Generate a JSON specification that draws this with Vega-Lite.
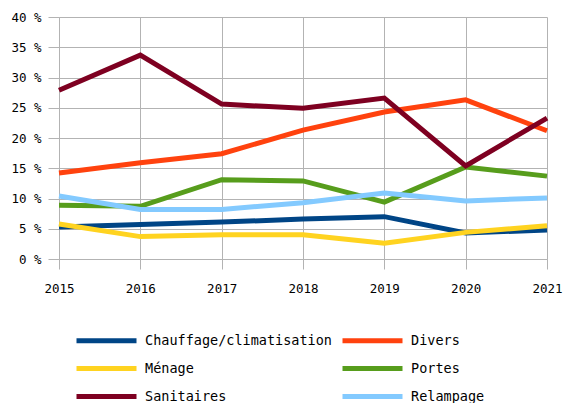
{
  "$schema": "https://vega.github.io/schema/vega-lite/v6.json",
  "width": 488,
  "height": 242,
  "autosize": "none",
  "padding": {"left": 59, "top": 17, "right": 20, "bottom": 144},
  "background": "white",
  "config": {"view": {"stroke": null}, "font": "DejaVu Sans Mono"},
  "data": {"values": [
    {"serie": "Chauffage/climatisation", "annee": 2015, "v": 5.3},
    {"serie": "Chauffage/climatisation", "annee": 2016, "v": 5.7},
    {"serie": "Chauffage/climatisation", "annee": 2017, "v": 6.1},
    {"serie": "Chauffage/climatisation", "annee": 2018, "v": 6.6},
    {"serie": "Chauffage/climatisation", "annee": 2019, "v": 7.0},
    {"serie": "Chauffage/climatisation", "annee": 2020, "v": 4.3},
    {"serie": "Chauffage/climatisation", "annee": 2021, "v": 4.8},
    {"serie": "Divers", "annee": 2015, "v": 14.2},
    {"serie": "Divers", "annee": 2016, "v": 15.9},
    {"serie": "Divers", "annee": 2017, "v": 17.4},
    {"serie": "Divers", "annee": 2018, "v": 21.3},
    {"serie": "Divers", "annee": 2019, "v": 24.3},
    {"serie": "Divers", "annee": 2020, "v": 26.3},
    {"serie": "Divers", "annee": 2021, "v": 21.2},
    {"serie": "Ménage", "annee": 2015, "v": 5.8},
    {"serie": "Ménage", "annee": 2016, "v": 3.7},
    {"serie": "Ménage", "annee": 2017, "v": 4.0},
    {"serie": "Ménage", "annee": 2018, "v": 4.0},
    {"serie": "Ménage", "annee": 2019, "v": 2.6},
    {"serie": "Ménage", "annee": 2020, "v": 4.4},
    {"serie": "Ménage", "annee": 2021, "v": 5.5},
    {"serie": "Portes", "annee": 2015, "v": 8.9},
    {"serie": "Portes", "annee": 2016, "v": 8.7},
    {"serie": "Portes", "annee": 2017, "v": 13.1},
    {"serie": "Portes", "annee": 2018, "v": 12.9},
    {"serie": "Portes", "annee": 2019, "v": 9.4},
    {"serie": "Portes", "annee": 2020, "v": 15.2},
    {"serie": "Portes", "annee": 2021, "v": 13.7},
    {"serie": "Sanitaires", "annee": 2015, "v": 27.9},
    {"serie": "Sanitaires", "annee": 2016, "v": 33.7},
    {"serie": "Sanitaires", "annee": 2017, "v": 25.6},
    {"serie": "Sanitaires", "annee": 2018, "v": 24.9},
    {"serie": "Sanitaires", "annee": 2019, "v": 26.6},
    {"serie": "Sanitaires", "annee": 2020, "v": 15.4},
    {"serie": "Sanitaires", "annee": 2021, "v": 23.3},
    {"serie": "Relampage", "annee": 2015, "v": 10.4},
    {"serie": "Relampage", "annee": 2016, "v": 8.2},
    {"serie": "Relampage", "annee": 2017, "v": 8.2},
    {"serie": "Relampage", "annee": 2018, "v": 9.3},
    {"serie": "Relampage", "annee": 2019, "v": 10.9},
    {"serie": "Relampage", "annee": 2020, "v": 9.6},
    {"serie": "Relampage", "annee": 2021, "v": 10.1}
  ]},
  "mark": {"type": "line", "strokeWidth": 5, "strokeJoin": "miter", "strokeCap": "butt"},
  "encoding": {
    "x": {
      "field": "annee", "type": "quantitative",
      "scale": {"domain": [2015, 2021], "nice": false, "zero": false},
      "axis": {
        "title": null, "values": [2015, 2016, 2017, 2018, 2019, 2020, 2021], "format": "d",
        "grid": true, "gridColor": "#b3b3b3", "domainColor": "#b3b3b3", "tickColor": "#b3b3b3",
        "tickSize": 10, "labelPadding": 13, "labelFontSize": 12.5, "labelColor": "#000000",
        "labelFont": "DejaVu Sans Mono", "labelFlush": false
      }
    },
    "y": {
      "field": "v", "type": "quantitative",
      "scale": {"domain": [0, 40], "nice": false},
      "axis": {
        "title": null, "values": [0, 5, 10, 15, 20, 25, 30, 35, 40],
        "labelExpr": "datum.value + ' %'",
        "grid": true, "gridColor": "#b3b3b3", "domainColor": "#b3b3b3", "tickColor": "#b3b3b3",
        "tickSize": 11, "labelPadding": 7, "labelFontSize": 12.5, "labelColor": "#000000",
        "labelFont": "DejaVu Sans Mono"
      }
    },
    "color": {
      "field": "serie", "type": "nominal",
      "scale": {
        "domain": ["Chauffage/climatisation", "Divers", "Ménage", "Portes", "Sanitaires", "Relampage"],
        "range": ["#004586", "#ff420e", "#ffd320", "#579d1c", "#7e0021", "#83caff"]
      },
      "legend": {
        "title": null, "orient": "none", "legendX": 15, "legendY": 311, "direction": "horizontal",
        "columns": 2, "symbolType": "M-3,0H3", "symbolSize": 400, "symbolStrokeWidth": 5,
        "symbolOffset": 20,
        "labelFontSize": 13.5, "labelFont": "DejaVu Sans Mono", "labelColor": "#000000",
        "labelOffset": 26, "columnPadding": 0, "rowPadding": 5, "labelLimit": 400
      }
    }
  }
}
